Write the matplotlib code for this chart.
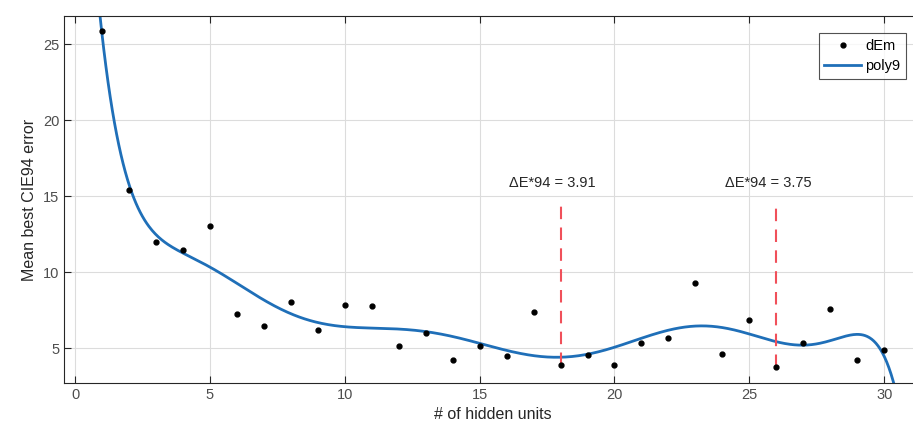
import numpy as np
import matplotlib
matplotlib.use("Agg")
import matplotlib.pyplot as plt

# mean best CIE94 error per number of hidden units
hidden_units = np.arange(1, 31)
dEm = [25.86, 15.4, 12.02, 11.5, 13.05, 7.28, 6.45, 8.07, 6.2, 7.88,
       7.8, 5.18, 6.0, 4.23, 5.18, 4.47, 7.37, 3.91, 4.56, 3.9,
       5.35, 5.68, 9.3, 4.6, 6.86, 3.75, 5.35, 7.57, 4.26, 4.87]

# best results marked on the plot
best_units = [18, 26]
best_err = [3.91, 3.75]

plt.rcParams['font.family'] = ['Liberation Sans', 'DejaVu Sans']

fig = plt.figure(figsize=(9.13, 4.4), dpi=100)
ax = fig.add_axes([0.0701, 0.1295, 0.940, 0.834])

xlim = (-0.41, 31.41)
ylim = (2.72, 26.86)

# degree 9 polynomial fit, evaluated over the whole x range
fit = np.polynomial.Polynomial.fit(hidden_units, dEm, 9)
xs = np.linspace(xlim[0], xlim[1], 800)

ax.plot(hidden_units, dEm, 'k.', markersize=7, label='dEm', zorder=3)
ax.plot(xs, fit(xs), color='#1f6fb8', linewidth=2, label='poly9', zorder=2)

for u, e in zip(best_units, best_err):
    ax.plot([u, u], [e, 14.4], color='#f0505a', linestyle=(0, (6, 4)),
            linewidth=1.5, zorder=2)
    ax.text(u - 0.3, 15.4, 'ΔE*94 = %.2f' % e, ha='center', va='bottom',
            fontsize=10.5, color='#262626')

ax.set_xlim(*xlim)
ax.set_ylim(*ylim)
ax.set_xticks(range(0, 31, 5))
ax.set_yticks(range(5, 26, 5))
ax.grid(True, color='#dcdcdc', linewidth=0.8)
ax.set_axisbelow(True)
ax.tick_params(direction='in', top=True, right=True, length=5,
               labelsize=10.5, labelcolor='#4d4d4d', color='#262626')
for s in ax.spines.values():
    s.set_color('#262626')
    s.set_linewidth(0.8)

ax.set_xlabel('# of hidden units', fontsize=11.5, color='#262626')
ax.set_ylabel('Mean best CIE94 error', fontsize=11.5, color='#262626')

leg = ax.legend(loc='upper right', bbox_to_anchor=(0.9814, 0.9537),
                fancybox=False, edgecolor='#262626', fontsize=10.5,
                handlelength=2.5, borderpad=0.4, labelspacing=0.45,
                handletextpad=0.3, borderaxespad=0.0)
leg.get_frame().set_linewidth(0.8)

fig.savefig('out.png', dpi=100)
